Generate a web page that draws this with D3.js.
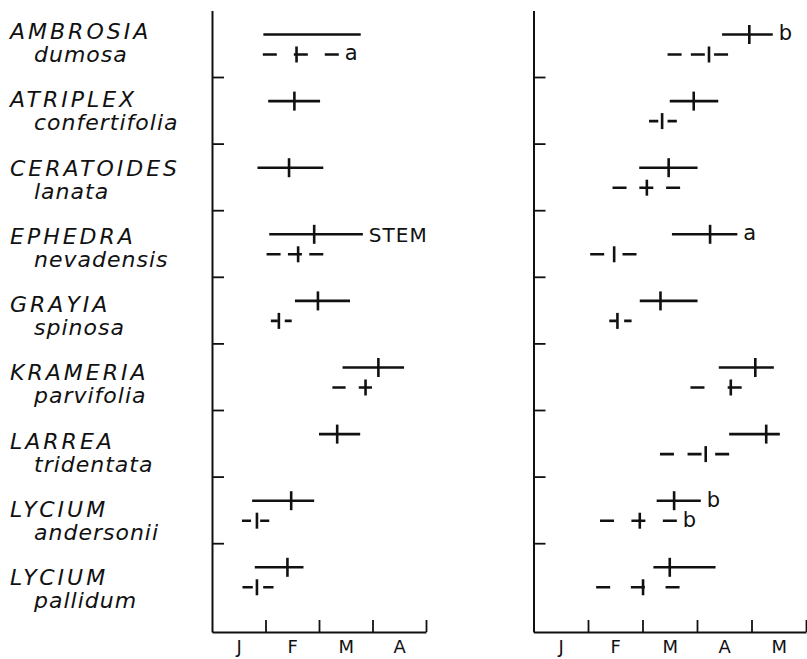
<!DOCTYPE html>
<html>
<head>
<meta charset="utf-8">
<script src="https://cdn.jsdelivr.net/npm/d3@7"></script>
<style>
  html, body { margin: 0; padding: 0; background: #fff; }
  svg { display: block; }
</style>
</head>
<body>
<script>
// ---------- DATA ----------
const genera   = ["AMBROSIA","ATRIPLEX","CERATOIDES","EPHEDRA","GRAYIA","KRAMERIA","LARREA","LYCIUM","LYCIUM"];
const epithets = ["dumosa","confertifolia","lanata","nevadensis","spinosa","parvifolia","tridentata","andersonii","pallidum"];
const monthsLeft  = ["J","F","M","A"];
const monthsRight = ["J","F","M","A","M"];

// values in months after 1 January: [start, mean, end]
const leftSolid = [
  [0.96, null, 2.78], [1.05, 1.54, 2.02], [0.85, 1.44, 2.08],
  [1.07, 1.91, 2.82], [1.55, 1.98, 2.58], [2.44, 3.11, 3.59],
  [2.00, 2.34, 2.77], [0.75, 1.48, 1.91], [0.80, 1.41, 1.71]
];
const leftDashed = [
  [0.95, 1.58, 2.37], null, null,
  [1.02, 1.61, 2.08], [1.10, 1.25, 1.49], [2.25, 2.87, 2.99],
  null, [0.56, 0.84, 1.07], [0.57, 0.84, 1.15]
];
const rightSolid = [
  [3.46, 3.96, 4.39], [2.50, 2.94, 3.39], [1.94, 2.48, 3.01],
  [2.54, 3.24, 3.74], [1.95, 2.33, 3.01], [3.40, 4.07, 4.41],
  [3.59, 4.27, 4.52], [2.26, 2.58, 3.07], [2.20, 2.50, 3.34]
];
const rightDashed = [
  [2.46, 3.22, 3.57], [2.12, 2.36, 2.63], [1.45, 2.08, 2.69],
  [1.04, 1.48, 1.89], [1.39, 1.54, 1.80], [2.88, 3.62, 3.82],
  [2.32, 3.16, 3.59], [1.22, 1.95, 2.63], [1.15, 2.01, 2.68]
];
const leftNotes  = [
  { row: 0, series: "dashed", text: "a" },
  { row: 3, series: "solid",  text: "STEM" }
];
const rightNotes = [
  { row: 0, series: "solid",  text: "b" },
  { row: 3, series: "solid",  text: "a" },
  { row: 7, series: "solid",  text: "b" },
  { row: 7, series: "dashed", text: "b" }
];

// ---------- LAYOUT ----------
const W = 807, H = 659;
const axisY = 632, axisTop = 10.4, rowStep = 66.6;
const nRows = genera.length;
const rowScale = d3.scaleLinear()
  .domain([0, (axisY - axisTop) / rowStep])
  .range([axisTop, axisY]);
const solidY  = i => rowScale(i + 0.362);
const dashedY = i => rowScale(i + 0.662);

const labelScale = d3.scaleLinear().domain([0, nRows - 1]).range([39, 585]);

const svg = d3.select("body").append("svg")
  .attr("width", W).attr("height", H)
  .attr("viewBox", `0 0 ${W} ${H}`);

const ink = "#111";
const font = "'DejaVu Sans', 'Liberation Sans', sans-serif";

// species labels
const labels = svg.append("g").attr("font-family", font).attr("font-style", "italic").attr("fill", ink);
genera.forEach((g, i) => {
  labels.append("text").attr("x", 10).attr("y", labelScale(i))
    .attr("font-size", 22).attr("letter-spacing", 3).text(g);
  labels.append("text").attr("x", 34).attr("y", labelScale(i) + 23)
    .attr("font-size", 22).attr("letter-spacing", 1).text(epithets[i]);
});

const panels = [
  { x0: 212,   x1: 426, months: monthsLeft,  solid: leftSolid,  dashed: leftDashed,  notes: leftNotes },
  { x0: 533.5, x1: 806, months: monthsRight, solid: rightSolid, dashed: rightDashed, notes: rightNotes }
];

function dashPattern(L) {
  const d = Math.min(14, L / 3);
  const n = Math.max(2, Math.min(3, Math.round((L + 12) / 26)));
  const gap = Math.max(0, (L - n * d) / (n - 1));
  return `${d},${gap}`;
}

panels.forEach(p => {
  const n = p.months.length;
  const x = d3.scaleLinear().domain([0, n]).range([p.x0, p.x1]);
  const g = svg.append("g");

  // y axis with inward ticks at row boundaries
  const yAx = g.append("g").attr("transform", `translate(${p.x0},0)`)
    .call(d3.axisLeft(rowScale).tickValues(d3.range(1, nRows)).tickSizeInner(-12).tickSizeOuter(0).tickFormat(""));
  // x axis: month boundary ticks pointing up
  const xAx = g.append("g").attr("transform", `translate(0,${axisY})`)
    .call(d3.axisBottom(x).tickValues(d3.range(1, n + 1)).tickSizeInner(-12).tickSizeOuter(0).tickFormat(""));
  [yAx, xAx].forEach(a => {
    a.selectAll("path").attr("stroke", ink).attr("stroke-width", 2);
    a.selectAll("line").attr("stroke", ink).attr("stroke-width", 1.8);
  });
  // month labels centred in each month
  const mAx = g.append("g").attr("transform", `translate(0,${axisY})`)
    .call(d3.axisBottom(x).tickValues(d3.range(n).map(i => i + 0.5))
      .tickSize(0).tickPadding(8).tickFormat((d, i) => p.months[i]));
  mAx.select(".domain").remove();
  mAx.selectAll("text").attr("font-family", font).attr("font-size", 18).attr("fill", ink);

  // solid ranges
  p.solid.forEach((s, i) => {
    if (!s) return;
    const y = solidY(i);
    g.append("line").attr("x1", x(s[0])).attr("x2", x(s[2])).attr("y1", y).attr("y2", y)
      .attr("stroke", ink).attr("stroke-width", 2.6);
    if (s[1] != null) {
      g.append("line").attr("x1", x(s[1])).attr("x2", x(s[1])).attr("y1", y - 9.5).attr("y2", y + 9.5)
        .attr("stroke", ink).attr("stroke-width", 2.6);
    }
  });
  // dashed ranges
  p.dashed.forEach((s, i) => {
    if (!s) return;
    const y = dashedY(i);
    const L = x(s[2]) - x(s[0]);
    g.append("line").attr("x1", x(s[0])).attr("x2", x(s[2])).attr("y1", y).attr("y2", y)
      .attr("stroke", ink).attr("stroke-width", 2.6).attr("stroke-dasharray", dashPattern(L));
    g.append("line").attr("x1", x(s[1])).attr("x2", x(s[1])).attr("y1", y - 8).attr("y2", y + 8)
      .attr("stroke", ink).attr("stroke-width", 2.6);
  });
  // notes
  p.notes.forEach(nt => {
    const s = nt.series === "solid" ? p.solid[nt.row] : p.dashed[nt.row];
    const y = nt.series === "solid" ? solidY(nt.row) : dashedY(nt.row);
    const upper = nt.text === nt.text.toUpperCase();
    g.append("text").attr("x", x(s[2]) + 6).attr("y", y)
      .attr("dy", upper ? "0.37em" : "0.28em")
      .attr("font-family", font).attr("font-size", upper ? 20 : 21)
      .attr("letter-spacing", upper ? 1 : 0)
      .attr("fill", ink).text(nt.text);
  });
});
</script>
</body>
</html>
